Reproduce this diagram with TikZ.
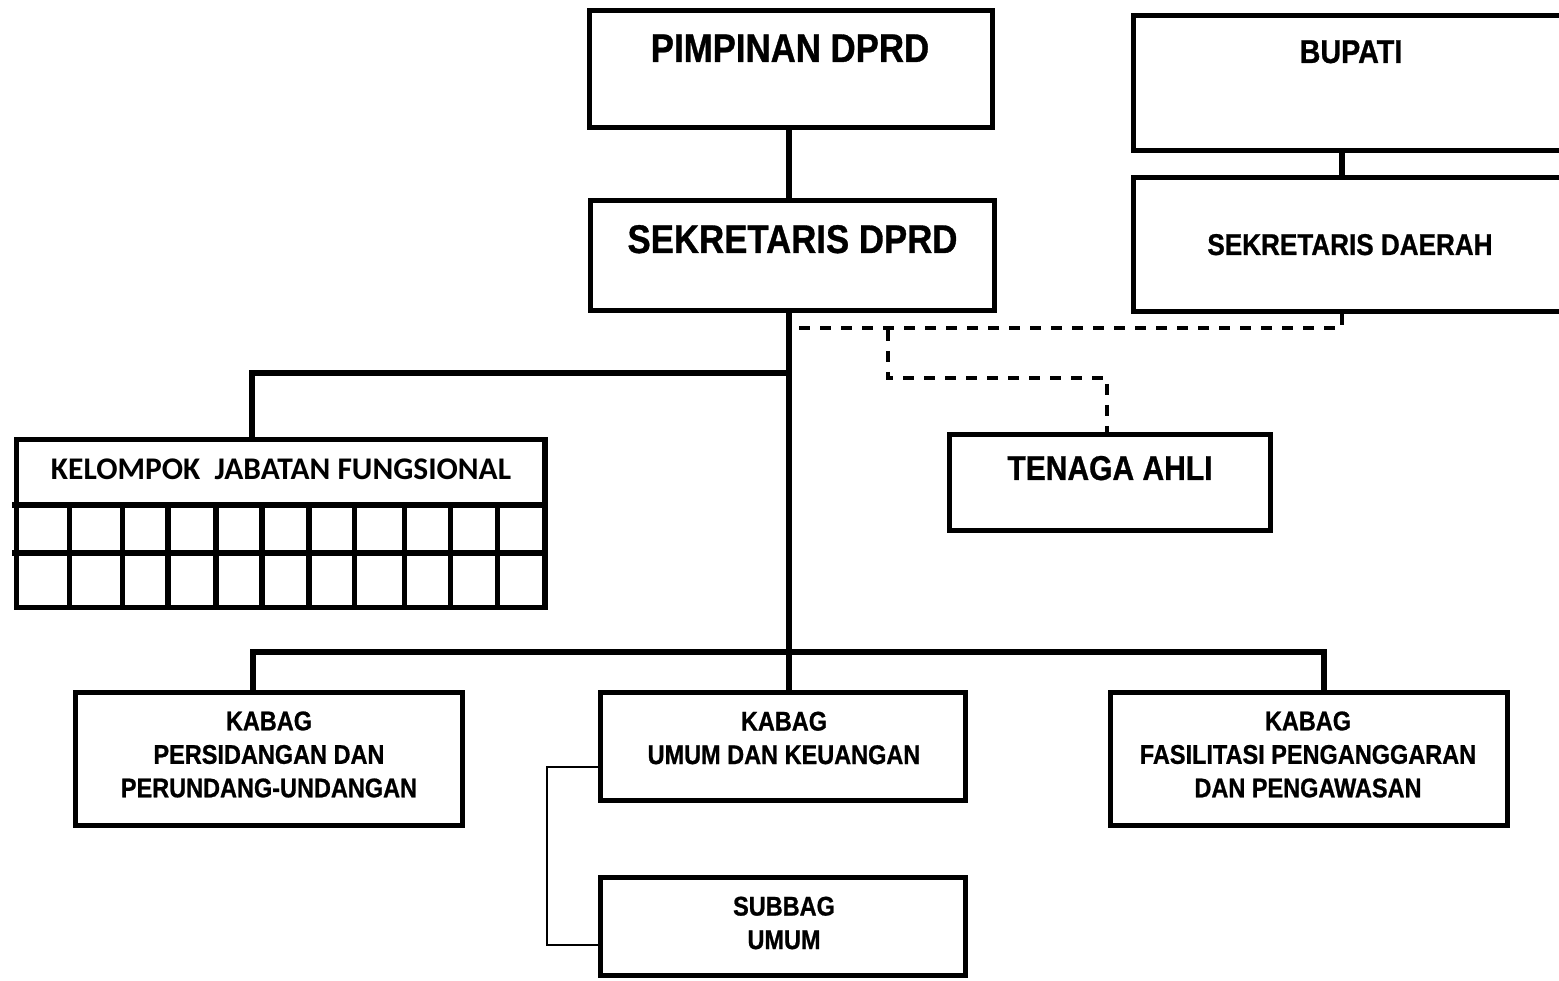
\documentclass[tikz,border=0pt]{standalone}
\usepackage{fontspec}
\newfontfamily\narrowfont[FakeStretch=0.87,FakeBold=0.8]{Liberation Sans}
\newfontfamily\calibrifont{Carlito}
\begin{document}
\begin{tikzpicture}[x=1pt,y=-1pt,
  box/.style={draw, line width=5.5pt, inner sep=0pt, rectangle},
  conn/.style={line width=5.5pt},
  thinconn/.style={line width=2.8pt},
  dashconn/.style={line width=3.5pt, dash pattern=on 11pt off 10pt},
  txt/.style={inner sep=0pt, align=center, font=\narrowfont\bfseries},
  bigtxt/.style={txt, font=\narrowfont\bfseries\fontsize{40}{48}\selectfont},
  midtxt/.style={txt, font=\narrowfont\bfseries\fontsize{27}{33.5}\selectfont}
]
\useasboundingbox[fill=white] (0,0) rectangle (1559,981);

% boxes
\node[box, minimum width=403pt, minimum height=117pt] (pim) at (791,69) {};
\node[box, minimum width=404pt, minimum height=110pt] (sek) at (792.5,255.5) {};
\node[box, minimum width=446.5pt, minimum height=135pt] (bup) at (1356.75,83) {};
\node[box, minimum width=446.5pt, minimum height=134pt] (sekda) at (1356.75,244.5) {};
\node[box, minimum width=321pt, minimum height=96pt] (ten) at (1110,482.5) {};
\node[box, minimum width=528.5pt, minimum height=168pt] (kel) at (280.75,523.5) {};
\node[box, minimum width=387pt, minimum height=133pt] (per) at (269,759) {};
\node[box, minimum width=365pt, minimum height=108pt] (umum) at (783,746.5) {};
\node[box, minimum width=365pt, minimum height=98pt] (sub) at (783,926.5) {};
\node[box, minimum width=397pt, minimum height=133pt] (fas) at (1309,759) {};

% texts
\node[bigtxt, anchor=base] (pimT) at (790,62) {PIMPINAN DPRD};
\node[bigtxt, anchor=base] (sekT) at (792.5,253) {SEKRETARIS DPRD};
\node[txt, anchor=base, font=\narrowfont\bfseries\fontsize{33}{40}\selectfont] (bupT) at (1351,63) {BUPATI};
\node[txt, anchor=base, font=\narrowfont\bfseries\fontsize{30}{36}\selectfont] (sekdaT) at (1350,255) {SEKRETARIS DAERAH};
\node[txt, anchor=base, font=\narrowfont\bfseries\fontsize{34.5}{41}\selectfont] (tenT) at (1110,480) {TENAGA AHLI};
\node[txt, anchor=base, font=\calibrifont\bfseries\fontsize{31.5}{36}\selectfont] (kelT) at (281,480) {KELOMPOK\ \ JABATAN FUNGSIONAL};
\node[midtxt] (perT) at (269,754.5) {KABAG\\PERSIDANGAN DAN\\PERUNDANG-UNDANGAN};
\node[midtxt] (umumT) at (784,738) {KABAG\\UMUM DAN KEUANGAN};
\node[midtxt] (fasT) at (1308,754.5) {KABAG\\FASILITASI PENGANGGARAN\\DAN PENGAWASAN};
\node[midtxt] (subT) at (784,923) {SUBBAG\\UMUM};

% grid of the functional group box
\foreach \gx in {69.6,122.5,167.9,216,261.8,308.9,354.6,404.6,450.7,497.5}
  \draw[conn] (\gx,505) -- (\gx,607.5);
\draw[conn] (12,505) -- (545,505);
\draw[conn] (12,553) -- (545,553);

% connectors
\coordinate (trunk) at (789,0);
\coordinate (bx) at (1342,0);
\coordinate (j1) at (789,373);
\coordinate (k1) at (252,373);
\coordinate (hl) at (253,652);
\coordinate (hr) at (1324,652);
\draw[conn] (pim.south -| trunk) -- (sek.north -| trunk);
\draw[conn] (sek.south -| trunk) -- (umum.north -| trunk);
\draw[conn] (j1) -- (k1) -- (kel.north -| k1);
\draw[conn] (per.north -| hl) -- (hl) -- (hr) -- (fas.north -| hr);
\draw[conn] (bup.south -| bx) -- (sekda.north -| bx);

% dashed coordination lines
\coordinate (d1) at (1342,328);
\coordinate (d2) at (888,330);
\coordinate (d3) at (888,378);
\coordinate (d4) at (1107,378);
\draw[dashconn] (sekda.south -| bx) -- (d1) -- (d1 -| trunk);
\draw[dashconn] (d2) -- (d3) -- (d4) -- (ten.north -| d4);

% thin connector to subbag
\coordinate (t1) at (547,767);
\coordinate (t2) at (547,945);
\draw[thinconn] (t1 -| umum.west) -- (t1) -- (t2) -- (t2 -| sub.west);
\end{tikzpicture}
\end{document}
